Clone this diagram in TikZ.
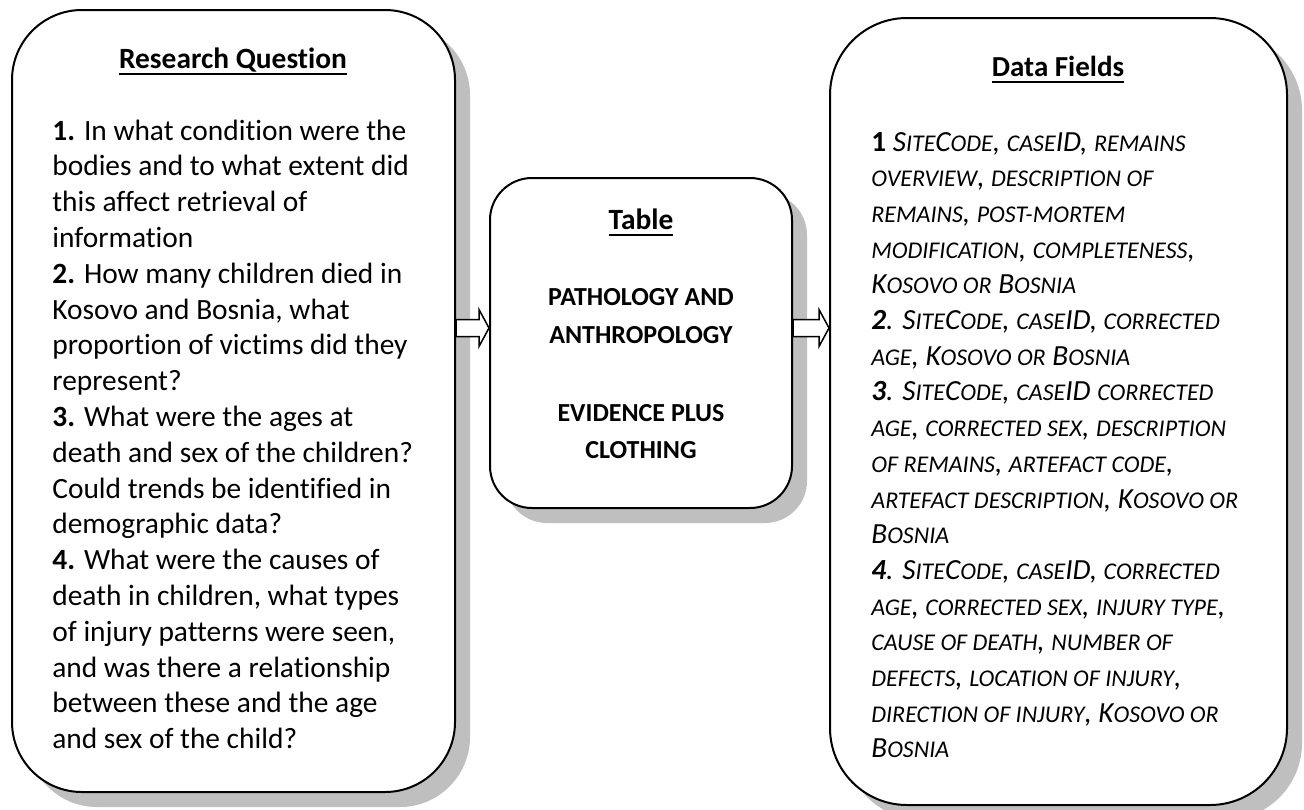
\documentclass[tikz,border=0pt]{standalone}
\usepackage{fontspec}
\setmainfont{Carlito}[Ligatures=CommonOff]
\usetikzlibrary{calc,shadows}
% synthetic small capitals (upper-case letters set smaller)
\newcommand\smc[1]{{\fontsize{12pt}{0pt}\selectfont #1}}
% heading underline sitting just under the baseline
\newcommand\ulined[1]{\setbox0\hbox{#1}\rlap{\rule[-3.4pt]{\wd0}{0.9pt}}\box0}
\begin{document}
\begin{tikzpicture}[x=0.5pt,y=-0.5pt,
  panel/.style={draw, line width=1pt, fill=white, inner sep=0pt,
    drop shadow={shadow xshift=7.5pt, shadow yshift=-7.5pt, fill=black!25, opacity=1}},
  heading/.style={anchor=base, inner sep=0pt, font=\fontsize{14.7pt}{16pt}\selectfont\bfseries},
  qline/.style={anchor=base west, inner sep=0pt, font=\fontsize{14.7pt}{16pt}\selectfont},
  tline/.style={anchor=base, inner sep=0pt, font=\fontsize{13pt}{15pt}\selectfont\bfseries},
  fline/.style={anchor=base west, inner sep=0pt, font=\fontsize{14.6pt}{16pt}\selectfont\itshape},
  blockarrow/.style={draw, line width=0.75pt, fill=white, line join=miter}]
\useasboundingbox (0,0) rectangle (1304,809);

% the three panels
\node[panel, rounded corners=35pt, minimum width=221.5pt, minimum height=391pt] (rq) at (233.5,401) {};
\node[panel, rounded corners=21pt, minimum width=151pt, minimum height=165pt] (tb) at (641,343) {};
\node[panel, rounded corners=38.5pt, minimum width=228.5pt, minimum height=393.5pt] (df) at (1058.5,411.5) {};

% block arrows between the panels
\coordinate (a1s) at (rq.east |- 0,328);
\coordinate (a1e) at (tb.west |- 0,328);
\coordinate (a2s) at (tb.east |- 0,328);
\coordinate (a2e) at (df.west |- 0,328);
\foreach \s/\e in {a1s/a1e, a2s/a2e}
  \draw[blockarrow] ($(\s)+(0,-8.5)$) -- ($(\e)+(-10,-8.5)$) -- ($(\e)+(-10,-18.5)$)
    -- (\e) -- ($(\e)+(-10,18.5)$) -- ($(\e)+(-10,8.5)$) -- ($(\s)+(0,8.5)$) -- cycle;

% headings
\node[heading] (rqtitle) at (233,68) {\ulined{Research Question}};
\node[heading] (tbtitle) at (641,229) {\ulined{Table}};
\node[heading, font=\fontsize{14.5pt}{16pt}\selectfont\bfseries] (dftitle) at (1058,76) {\ulined{Data Fields}};

% research questions
\foreach \t [count=\i] in {
  {\textbf{1.} In what condition were the},
  {bodies and to what extent did},
  {this affect retrieval of},
  {information},
  {\textbf{2.} How many children died in},
  {Kosovo and Bosnia, what},
  {proportion of victims did they},
  {represent?},
  {\textbf{3.} What were the ages at},
  {death and sex of the children?},
  {Could trends be identified in},
  {demographic data?},
  {\textbf{4.} What were the causes of},
  {death in children, what types},
  {of injury patterns were seen,},
  {and was there a relationship},
  {between these and the age},
  {and sex of the child?}}
  \node[qline] (q\i) at (52,{140+35.8*(\i-1)}) {\t};

% table contents
\foreach \t/\y [count=\i] in {PATHOLOGY AND/305, ANTHROPOLOGY/343, EVIDENCE PLUS/421, CLOTHING/458}
  \node[tline] (t\i) at (641,\y) {\t};

% data fields
\foreach \t [count=\i] in {
  {{\bfseries\upshape 1} S\smc{ITE}C\smc{ODE}, \smc{CASE}ID, \smc{REMAINS}},
  {\smc{OVERVIEW}, \smc{DESCRIPTION OF}},
  {\smc{REMAINS}, \smc{POST-MORTEM}},
  {\smc{MODIFICATION}, \smc{COMPLETENESS},},
  {K\smc{OSOVO OR} B\smc{OSNIA}},
  {\textbf{2}. S\smc{ITE}C\smc{ODE}, \smc{CASE}ID, \smc{CORRECTED}},
  {\smc{AGE}, K\smc{OSOVO OR} B\smc{OSNIA}},
  {\textbf{3}. S\smc{ITE}C\smc{ODE}, \smc{CASE}ID \smc{CORRECTED}},
  {\smc{AGE}, \smc{CORRECTED SEX}, \smc{DESCRIPTION}},
  {\smc{OF REMAINS}, \smc{ARTEFACT CODE},},
  {\smc{ARTEFACT DESCRIPTION}, K\smc{OSOVO OR}},
  {B\smc{OSNIA}},
  {\textbf{4}. S\smc{ITE}C\smc{ODE}, \smc{CASE}ID, \smc{CORRECTED}},
  {\smc{AGE}, \smc{CORRECTED SEX}, \smc{INJURY TYPE},},
  {\smc{CAUSE OF DEATH}, \smc{NUMBER OF}},
  {\smc{DEFECTS}, \smc{LOCATION OF INJURY},},
  {\smc{DIRECTION OF INJURY}, K\smc{OSOVO OR}},
  {B\smc{OSNIA}}}
  \node[fline] (f\i) at (871,{151+35.7*(\i-1)}) {\t};
\end{tikzpicture}
\end{document}
